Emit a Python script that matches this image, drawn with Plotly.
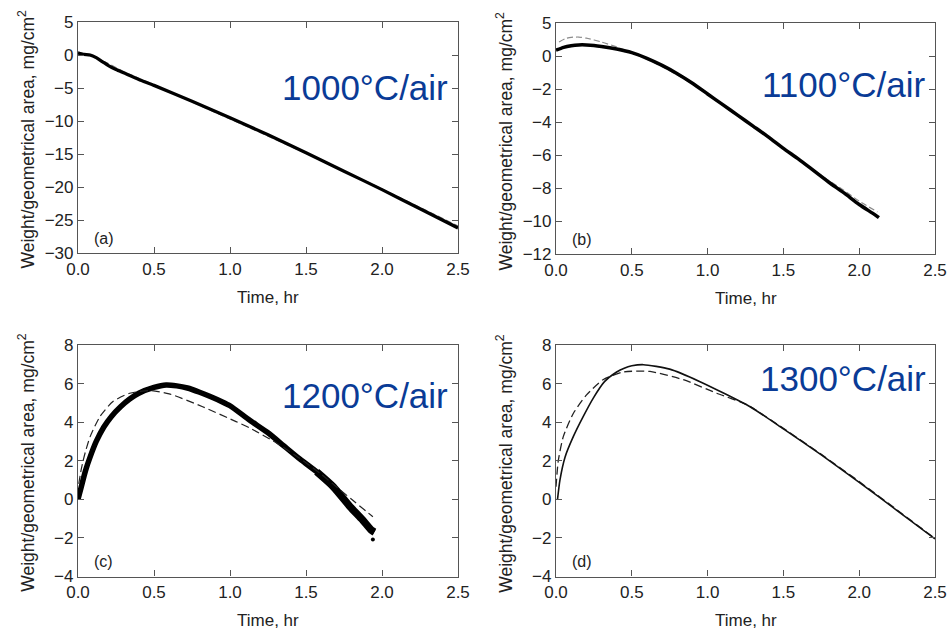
import plotly.graph_objects as go

# ---------------- data ----------------
# (a) 1000 C / air
a_t = [0.0, 0.04, 0.08, 0.12, 0.16, 0.2, 0.25, 0.3, 0.4, 0.5, 0.75, 1.0, 1.25, 1.5, 1.75, 2.0, 2.25, 2.5]
a_w = [0.3, 0.1, 0.0, -0.4, -1.0, -1.6, -2.2, -2.7, -3.7, -4.6, -7.0, -9.5, -12.1, -14.8, -17.6, -20.4, -23.3, -26.2]
a_mt = [0.0, 0.1, 0.2, 0.3, 0.5, 1.0, 1.5, 2.0, 2.5]
a_mw = [0.5, -0.3, -1.3, -2.5, -4.5, -9.7, -14.9, -20.3, -25.9]

# (b) 1100 C / air
b_t = [0.0, 0.05, 0.1, 0.15, 0.2, 0.25, 0.3, 0.4, 0.5, 0.6, 0.7, 0.8, 0.9, 1.0, 1.1, 1.2, 1.3,
       1.4, 1.5, 1.6, 1.7, 1.8, 1.9, 2.0, 2.1, 2.13]
b_w = [0.35, 0.52, 0.62, 0.67, 0.67, 0.64, 0.58, 0.42, 0.2, -0.14, -0.57, -1.07, -1.65, -2.3, -2.95,
       -3.6, -4.25, -4.9, -5.6, -6.25, -6.95, -7.65, -8.3, -9.0, -9.6, -9.8]
b_mt = [0.02, 0.06, 0.1, 0.15, 0.2, 0.3, 0.4, 0.5, 0.6, 0.7, 0.8, 0.9, 1.0, 1.1, 1.2, 1.3, 1.4,
        1.5, 1.6, 1.7, 1.8, 1.9, 2.0, 2.12]
b_mw = [0.85, 1.05, 1.13, 1.15, 1.08, 0.85, 0.55, 0.2, -0.2, -0.65, -1.15, -1.7, -2.35, -3.0,
        -3.65, -4.3, -4.95, -5.6, -6.25, -6.9, -7.55, -8.15, -8.8, -9.45]
b_ticks = [-12, -10, -8, -6, -4, -2, 0, 2]
b_ticktext = ["\u221212", "\u221210", "\u22128", "\u22126", "\u22124", "\u22122", "0", "5"]

# (c) 1200 C / air
c_t = [0.0, 0.02, 0.05, 0.08, 0.12, 0.17, 0.22, 0.28, 0.34, 0.4, 0.5, 0.58, 0.65, 0.72, 0.8, 0.87,
       0.95, 1.0, 1.13, 1.25, 1.35, 1.45, 1.57, 1.68, 1.79, 1.87, 1.93, 1.95]
c_w = [0.0, 0.6, 1.5, 2.2, 3.0, 3.75, 4.3, 4.8, 5.2, 5.5, 5.8, 5.93, 5.88, 5.77, 5.55, 5.33,
       5.05, 4.85, 4.1, 3.45, 2.8, 2.15, 1.43, 0.65, -0.38, -1.05, -1.6, -1.7]
c_mt = [0.005, 0.02, 0.035, 0.05, 0.08, 0.145, 0.23, 0.34, 0.47, 0.6, 0.82, 1.04, 1.13, 1.31,
        1.5, 1.6, 1.7, 1.8, 1.94]
c_mw = [0.8, 1.5, 2.04, 2.5, 3.25, 4.3, 5.07, 5.5, 5.64, 5.47, 4.8, 4.03, 3.7, 2.9,
        1.9, 1.3, 0.65, 0.0, -0.9]
c_out_t = [1.94]
c_out_w = [-2.08]

# (d) 1300 C / air
d_t = [0.01, 0.026, 0.06, 0.114, 0.18, 0.246, 0.32, 0.4, 0.45, 0.5, 0.577, 0.75, 0.95, 1.28, 1.5,
       1.75, 2.0, 2.25, 2.5]
d_w = [0.0, 1.0, 2.2, 3.25, 4.3, 5.25, 6.1, 6.6, 6.8, 6.92, 6.98, 6.75, 6.1, 4.8, 3.65,
       2.3, 0.88, -0.58, -2.05]
d_mt = [0.0, 0.015, 0.048, 0.114, 0.2, 0.31, 0.445, 0.62, 0.84, 1.06, 1.26, 1.5, 1.75, 2.0, 2.25, 2.5]
d_mw = [0.65, 2.0, 3.25, 4.45, 5.4, 6.2, 6.6, 6.63, 6.2, 5.5, 4.9, 3.68, 2.33, 0.92, -0.55, -2.03]

labels = ["1000\u00b0C/air", "1100\u00b0C/air", "1200\u00b0C/air", "1300\u00b0C/air"]
letters = ["(a)", "(b)", "(c)", "(d)"]
x_ticks = [0.0, 0.5, 1.0, 1.5, 2.0, 2.5]

# ---------------- figure ----------------
W, H = 949, 630
FONT = "Liberation Sans, Arial, sans-serif"
BLUE = "#0a3b96"
AX = "#555555"
TXT = "#222222"

fig = go.Figure()

panels = [
    dict(xp=(78, 458), yp=(22, 253)),
    dict(xp=(556, 935), yp=(23, 254)),
    dict(xp=(78, 458), yp=(345, 576.5)),
    dict(xp=(556, 935), yp=(345, 576.5)),
]

def add_line(i, x, y, color, width, dash="solid"):
    fig.add_trace(go.Scatter(x=x, y=y, mode="lines", xaxis=f"x{i+1}" if i else "x",
                             yaxis=f"y{i+1}" if i else "y",
                             line=dict(color=color, width=width, dash=dash, shape="spline", smoothing=0.6),
                             showlegend=False, hoverinfo="skip"))

# model lines first, data over them
add_line(0, a_mt, a_mw, "#8a8a8a", 1.2, "6px,3px")
add_line(0, a_t, a_w, "black", 3.3)
add_line(1, b_mt, b_mw, "#8a8a8a", 1.2, "6px,3px")
add_line(1, b_t, b_w, "black", 3.5)
add_line(2, c_t, c_w, "black", 5.5)
add_line(2, c_t[-6:], c_w[-6:], "black", 7.5)   # scattered tail of the data band
add_line(2, c_mt, c_mw, "#222222", 1.2, "8px,4px")
fig.add_trace(go.Scatter(x=c_out_t, y=c_out_w, mode="markers", xaxis="x3", yaxis="y3",
                         marker=dict(color="black", size=4), showlegend=False, hoverinfo="skip"))
add_line(3, d_mt, d_mw, "#222222", 1.3, "8px,4px")
add_line(3, d_t, d_w, "#111111", 1.6)

yranges = [[-30, 5], [-12, 2], [-4, 8], [-4, 8]]
ydticks = [5, 2, 2, 2]

layout = dict(width=W, height=H, margin=dict(l=0, r=0, t=0, b=0, autoexpand=False),
              template="none",
              paper_bgcolor="white", plot_bgcolor="white",
              font=dict(family=FONT, size=16, color=TXT))
annotations = []
for i, p in enumerate(panels):
    sx = "" if i == 0 else str(i + 1)
    xd = [p["xp"][0] / W, p["xp"][1] / W]
    yd = [1 - p["yp"][1] / H, 1 - p["yp"][0] / H]
    common = dict(showline=True, mirror="ticks", linecolor=AX, linewidth=1.2,
                  ticks="inside", ticklen=6, tickcolor=AX, tickwidth=1, showgrid=False,
                  zeroline=False, automargin=False, fixedrange=True,
                  tickfont=dict(size=17, color=TXT, family=FONT))
    xaxis = dict(domain=xd, range=[0, 2.5], tickvals=x_ticks, tickformat=".1f",
                 anchor="y" + sx, **common)
    yaxis = dict(domain=yd, range=yranges[i], dtick=ydticks[i], anchor="x" + sx, **common)
    if i == 1:
        yaxis.update(tickvals=b_ticks, ticktext=b_ticktext)
    layout["xaxis" + sx] = xaxis
    layout["yaxis" + sx] = yaxis

    xc = (p["xp"][0] + p["xp"][1]) / 2
    yc = (p["yp"][0] + p["yp"][1]) / 2
    annotations.append(dict(text="Time, hr", x=xc / W, y=1 - (p["yp"][1] + 44) / H,
                            xref="paper", yref="paper", showarrow=False,
                            xanchor="center", yanchor="middle",
                            font=dict(size=17, color=TXT)))
    annotations.append(dict(text="Weight/geometrical area, mg/cm<sup>2</sup>",
                            x=(p["xp"][0] - 52) / W, y=1 - (yc + 2) / H,
                            xref="paper", yref="paper", showarrow=False, textangle=-90,
                            xanchor="center", yanchor="middle",
                            font=dict(size=17.5, color=TXT)))
    annotations.append(dict(text=letters[i], x=(p["xp"][0] + 14) / W, y=1 - (p["yp"][1] - 15) / H,
                            xref="paper", yref="paper", showarrow=False,
                            xanchor="left", yanchor="middle",
                            font=dict(size=16, color=TXT)))

label_pos = [(450, 88), (928, 85), (450, 395), (928, 378)]
for i, (lx, ly) in enumerate(label_pos):
    annotations.append(dict(text=labels[i], x=lx / W, y=1 - ly / H, xref="paper", yref="paper",
                            showarrow=False, xanchor="right", yanchor="middle",
                            font=dict(size=35, color=BLUE, family=FONT)))

layout["annotations"] = annotations
fig.update_layout(**layout)
fig.write_html("out.html", config={"displayModeBar": False},
               post_script="document.body.style.margin='0';document.body.style.padding='0';"
                           "document.body.style.overflow='hidden';")
